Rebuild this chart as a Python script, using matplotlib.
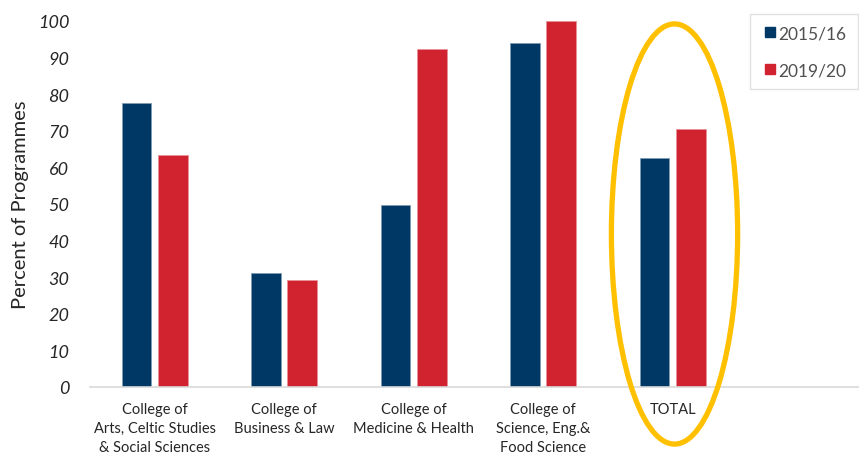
import numpy as np
import matplotlib
matplotlib.use('Agg')
import matplotlib.pyplot as plt
from matplotlib.patches import Ellipse
from matplotlib.lines import Line2D

plt.rcParams['font.family'] = ['Lato', 'DejaVu Sans']

categories = ['College of\nArts, Celtic Studies\n& Social Sciences',
              'College of\nBusiness & Law',
              'College of\nMedicine & Health',
              'College of\nScience, Eng.&\nFood Science',
              'TOTAL']
pct_2015 = [77.6, 31.1, 49.8, 94.0, 62.6]
pct_2019 = [63.4, 29.2, 92.3, 100.0, 70.6]
series = ['2015/16', '2019/20']

blue = '#003865'
red = '#D0232F'
gold = '#FFC000'
txt = '#262626'

fig = plt.figure(figsize=(8.59, 4.56), dpi=100)
ax = fig.add_axes([90/859, 1-388/456, 1-90/859, (388-22)/456])

x = np.arange(len(categories))
w = 0.23
ax.bar(x - 0.14, pct_2015, w, color=blue, edgecolor='#7f9bb2', linewidth=0.6, zorder=2)
ax.bar(x + 0.14, pct_2019, w, color=red, edgecolor='#e89099', linewidth=0.6, zorder=2)

ax.set_xlim(-0.5, 5.44)
ax.set_ylim(0, 100)
ax.set_xticks(x)
ax.set_xticklabels(categories, fontsize=10.5, color=txt, linespacing=1.45)
ax.set_yticks(np.arange(0, 101, 10))
ax.set_yticklabels([str(v) for v in range(0, 101, 10)], fontsize=13,
                   style='italic', color=txt)
ax.tick_params(axis='x', length=0, pad=11)
ax.tick_params(axis='y', length=0, pad=15)
for s in ['top', 'right', 'left']:
    ax.spines[s].set_visible(False)
ax.spines['bottom'].set_color('#D9D9D9')
ax.spines['bottom'].set_linewidth(1.2)

ax.set_ylabel('Percent of Programmes', fontsize=14.5, color=txt, labelpad=6)

# highlight circle round the TOTAL bars
ell = Ellipse((4.015, 41.8), 0.975, 114.8, fill=False, edgecolor=gold,
              linewidth=3.8, clip_on=False, zorder=3)
ax.add_patch(ell)

handles = [Line2D([], [], marker='s', linestyle='none', color=blue, markersize=7),
           Line2D([], [], marker='s', linestyle='none', color=red, markersize=7)]
leg = fig.legend(handles, series, loc='upper right',
                 bbox_to_anchor=(858/859, 1-15/456), borderaxespad=0,
                 fontsize=12.5, frameon=True, fancybox=False,
                 handletextpad=0.05, labelspacing=1.2, borderpad=0.65,
                 handlelength=0.95, labelcolor='#505050')
leg.get_frame().set_edgecolor('#D9D9D9')
leg.get_frame().set_linewidth(1.0)

fig.savefig('out.png', dpi=100)
